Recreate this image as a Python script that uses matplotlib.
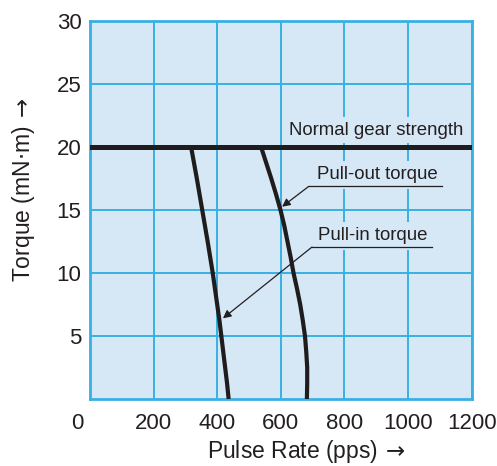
import matplotlib

matplotlib.use("Agg")
import matplotlib.pyplot as plt

# torque (mN·m) vs pulse rate (pps)
pullout_torque = [20, 18.75, 17.5, 16.25, 15, 13.75, 12.5, 11.25, 10,
                  8.75, 7.5, 6.25, 5, 3.75, 2.5, 1.25, 0]
pullout_rate = [538, 554, 570, 585, 599, 611, 621, 631, 640,
                651, 661, 669, 676, 680, 683, 683, 682]
pullin_torque = [20, 17.5, 15, 12.5, 10, 7.5, 6.25, 5, 3.75, 2.5, 1.25, 0]
pullin_rate = [318, 336, 353, 370, 386, 400, 407, 413, 419, 425, 431, 436]
gear_strength = 20

xticks = [0, 200, 400, 600, 800, 1000, 1200]
yticks = [5, 10, 15, 20, 25, 30]

BG = "#d6e7f6"
GRID = "#38b0e4"
INK = "#231f20"
LINE = "#1e1c1c"
FONT = ["Liberation Sans", "DejaVu Sans"]

plt.rcParams["font.family"] = FONT
plt.rcParams["text.color"] = INK
plt.rcParams["mathtext.fontset"] = "dejavusans"

fig = plt.figure(figsize=(4.97, 4.66), dpi=100)
ax = fig.add_axes([0.181, 0.1438, 0.768, 0.811])
ax.set_facecolor(BG)
ax.set_xlim(0, 1200)
ax.set_ylim(0, 30)
ax.set_xticks(xticks)
ax.set_xticklabels([""] + [str(v) for v in xticks[1:]])
ax.set_yticks(yticks)
ax.set_yticklabels([str(v) for v in yticks])
ax.tick_params(axis="both", length=0, labelsize=16, colors=INK)
ax.tick_params(axis="y", pad=6)
ax.tick_params(axis="x", pad=10)
for sp in ax.spines.values():
    sp.set_color(GRID)
    sp.set_linewidth(2)
ax.set_axisbelow(True)
ax.grid(True, color=GRID, lw=1.4)

# shared origin label sits left of the corner
ax.annotate("0", xy=(0, 0), xytext=(-9.4, -10), textcoords="offset points",
            ha="center", va="top", fontsize=16, color=INK,
            annotation_clip=False)

ax.axhline(gear_strength, color=LINE, lw=3.6, zorder=4)
ax.plot(pullout_rate, pullout_torque, color=LINE, lw=3.0,
        solid_capstyle="butt", solid_joinstyle="round", zorder=4)
ax.plot(pullin_rate, pullin_torque, color=LINE, lw=3.0,
        solid_capstyle="butt", solid_joinstyle="round", zorder=4)

ax.text(899, 21.35, "Normal gear strength", ha="center", va="center",
        fontsize=13.4, bbox=dict(facecolor=BG, edgecolor="none", pad=3),
        zorder=3)

# labels with underline + leader arrow
labels = [
    ("Pull-out torque", 903, 17.8, 16.88, 688, 1107, (604, 15.26)),
    ("Pull-in torque", 888, 12.94, 12.06, 698, 1074, (418, 6.4)),
]
for txt, tx, ty, uy, ux0, ux1, tip in labels:
    ax.text(tx, ty, txt, ha="center", va="center", fontsize=13.4,
            bbox=dict(facecolor=BG, edgecolor="none", pad=4), zorder=3)
    ax.plot([ux0, ux1], [uy, uy], color=INK, lw=0.9, zorder=3.5)
    ax.annotate("", xy=tip, xytext=(ux0, uy),
                arrowprops=dict(arrowstyle="-|>", color=INK, lw=0.9,
                                mutation_scale=12, shrinkA=0, shrinkB=0),
                zorder=3.5)

ax.set_xlabel(r"Pulse Rate (pps)$\,\rightarrow$", fontsize=16.5, color=INK)
ax.xaxis.set_label_coords(0.568, -0.104)
ax.set_ylabel(r"Torque (mN$\cdot$m)$\,\rightarrow$", fontsize=16.5, color=INK)
ax.yaxis.set_label_coords(-0.139, 0.553)

fig.savefig("out.png", dpi=100, facecolor="white")
